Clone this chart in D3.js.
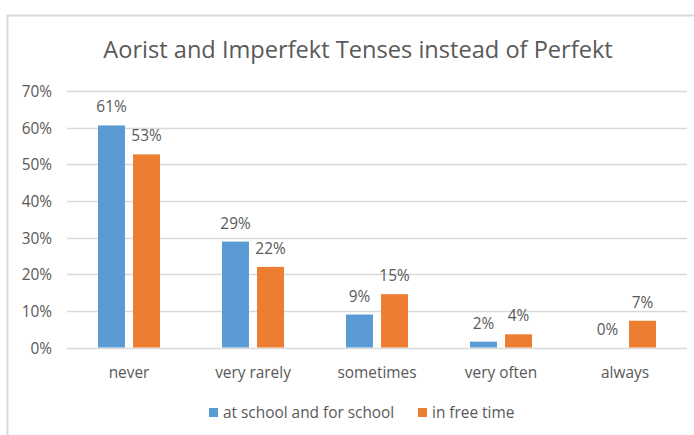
<!DOCTYPE html>
<html><head><meta charset="utf-8">
<script src="https://cdn.jsdelivr.net/npm/d3@7"></script>
<style>body{margin:0;background:#fff;} text{font-family:"Open Sans",sans-serif;fill:#595959;}</style>
</head><body><svg id="c" width="694" height="435"></svg>
<script>
const categories = ["never", "very rarely", "sometimes", "very often", "always"];
const seriesNames = ["at school and for school", "in free time"];
const schoolValues = [0.606, 0.289, 0.090, 0.016, 0.0];
const freeTimeValues = [0.527, 0.220, 0.1455, 0.036, 0.073];
const yTicks = [0, 0.1, 0.2, 0.3, 0.4, 0.5, 0.6, 0.7];
const colors = ["#5b9bd5", "#ed7d31"];
const title = "Aorist and Imperfekt Tenses instead of Perfekt";

const svg = d3.select("#c");
const m = {left: 67, right: 687, top: 91, bottom: 347.5};
const fs = 15.4;

// frame
svg.append("rect").attr("x", 7.5).attr("y", 15.5).attr("width", 720).attr("height", 460)
  .attr("fill", "none").attr("stroke", "#d9d9d9").attr("stroke-width", 2);

const y = d3.scaleLinear().domain([0, 0.7]).range([m.bottom, m.top]);
const x0 = d3.scaleBand().domain(categories).range([m.left, m.right]).paddingInner(0.5).paddingOuter(0.25);
const x1 = d3.scaleBand().domain(seriesNames).range([0, x0.bandwidth()]).paddingInner(0.23);

// gridlines
svg.append("g").selectAll("line").data(yTicks).join("line")
  .attr("x1", m.left).attr("x2", m.right)
  .attr("y1", d => Math.round(y(d)) + 0.5).attr("y2", d => Math.round(y(d)) + 0.5)
  .attr("stroke", "#d9d9d9").attr("stroke-width", 1.3);

// y axis labels
const yAxis = d3.axisLeft(y).tickValues(yTicks).tickFormat(d3.format(".0%")).tickSize(0).tickPadding(0);
const ga = svg.append("g").attr("transform", `translate(52,0)`).call(yAxis);
ga.select(".domain").remove();
ga.selectAll("text").attr("font-size", fs).attr("font-family", "Open Sans").attr("fill", "#595959").attr("dy", "0.36em");

// x axis labels
const xAxis = d3.axisBottom(x0).tickSize(0).tickPadding(0);
const gx = svg.append("g").attr("transform", `translate(0,${m.bottom})`).call(xAxis);
gx.select(".domain").remove();
gx.selectAll("text").attr("font-size", fs).attr("font-family", "Open Sans").attr("fill", "#595959")
  .attr("y", 30).attr("dy", 0);

const data = categories.map((c, i) => ({cat: c, vals: [
  {s: seriesNames[0], v: schoolValues[i], k: 0},
  {s: seriesNames[1], v: freeTimeValues[i], k: 1}]}));

const groups = svg.append("g").selectAll("g").data(data).join("g")
  .attr("transform", d => `translate(${x0(d.cat)},0)`);
groups.selectAll("rect").data(d => d.vals).join("rect")
  .attr("x", d => x1(d.s)).attr("width", x1.bandwidth())
  .attr("y", d => y(d.v)).attr("height", d => y(0) - y(d.v))
  .attr("fill", d => colors[d.k]);
groups.selectAll("text").data(d => d.vals).join("text")
  .attr("x", d => x1(d.s) + x1.bandwidth() / 2)
  .attr("y", d => y(d.v) - 13)
  .attr("text-anchor", "middle").attr("font-size", fs)
  .text(d => Math.round(d.v * 100) + "%");

// title
svg.append("text").attr("x", 358).attr("y", 58).attr("text-anchor", "middle")
  .attr("font-size", 23.6).text(title);

// legend
const leg = svg.append("g");
const legX = [209, 418];
seriesNames.forEach((s, i) => {
  leg.append("rect").attr("x", legX[i]).attr("y", 408).attr("width", 9).attr("height", 9).attr("fill", colors[i]);
  leg.append("text").attr("x", legX[i] + 14).attr("y", 417.5).attr("font-size", fs).text(s);
});
</script></body></html>
